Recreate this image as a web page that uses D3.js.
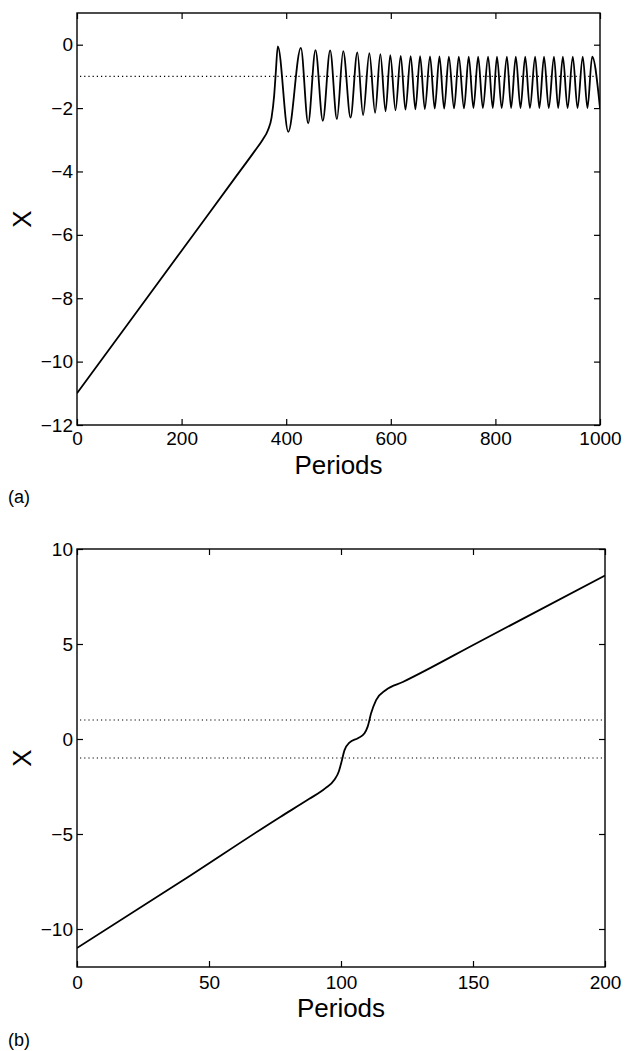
<!DOCTYPE html>
<html lang="en">
<head>
  <meta charset="UTF-8">
  <title>Periods vs X</title>
  <style>
    body { margin: 0; background: #fff; }
    svg { display: block; font-family: "Liberation Sans", Arial, Helvetica, sans-serif; }
    .frame { fill: none; stroke: #000; stroke-width: 1.4; }
    .tick line { stroke: #000; stroke-width: 1.2; }
    .tick text { fill: #000; font-size: 19px; }
    .curve { fill: none; stroke: #000; stroke-width: 1.8; }
    .ref { stroke: #000; stroke-width: 1.1; stroke-dasharray: 1.2 3; }
  </style>
</head>
<body>
  <script src="https://cdn.jsdelivr.net/npm/d3@7"></script>
  <script>
    // panel (a): long run (linear rise, then peaks/troughs)
    var periodsA = [0, 100, 200, 300, 340, 355, 365, 372, 377, 380, 384,
      404, 428, 442, 456, 470, 484, 497, 509, 523, 536, 547, 559, 570, 580, 590,
      599, 609, 619, 628, 638, 647, 656, 665, 675, 684, 693, 702, 711, 721, 730,
      740, 749, 758, 767, 776, 786, 795, 803, 812, 822, 830, 839, 848, 857, 866,
      876, 884, 893, 902, 912, 920, 929, 938, 948, 957, 967, 976, 985, 1000];
    var xA = [-11, -8.75, -6.5, -4.25, -3.35, -3.0, -2.7, -2.3, -1.6, -0.9, -0.05,
      -2.75, -0.1, -2.48, -0.17, -2.4, -0.18, -2.35, -0.2, -2.3, -0.24, -2.22, -0.27, -2.15, -0.3, -2.1,
      -0.33, -2.07, -0.35, -2.05, -0.36, -2.04, -0.36, -2.03, -0.37, -2.02, -0.37, -2.02, -0.38, -2.01, -0.38,
      -2.01, -0.38, -2.0, -0.38, -2.0, -0.38, -2.0, -0.38, -2.0, -0.38, -2.0, -0.38, -2.0, -0.38, -2.0,
      -0.38, -2.0, -0.38, -2.0, -0.38, -2.0, -0.38, -2.0, -0.38, -2.0, -0.38, -2.0, -0.38, -2.0];
    var refA = [-1];
    var xTicksA = [0, 200, 400, 600, 800, 1000];
    var yTicksA = [-12, -10, -8, -6, -4, -2, 0];

    // panel (b): short run with a step between the two dotted levels
    var periodsB = [0, 40, 77, 88, 94, 97.5, 99.2, 100.2, 101.3, 103.2, 106.4, 108.9,
      110.1, 111.4, 113.3, 117, 123.4, 152.4, 200];
    var xB = [-11, -7.45, -4.1, -3.15, -2.6, -2.15, -1.7, -1.2, -0.6, -0.19, 0.04, 0.3,
      0.65, 1.35, 2.05, 2.58, 3.0, 5.12, 8.6];
    var refB = [1, -1];
    var xTicksB = [0, 50, 100, 150, 200];
    var yTicksB = [-10, -5, 0, 5, 10];

    var svg = d3.select('body').append('svg')
      .attr('width', 625)
      .attr('height', 1051);

    function panel(opt) {
      var x = d3.scaleLinear().domain(opt.xDomain).range([opt.left, opt.right]);
      var y = d3.scaleLinear().domain(opt.yDomain).range([opt.bottom, opt.top]);
      var g = svg.append('g');
      var fmt = d3.format('d');

      g.append('clipPath').attr('id', opt.id)
        .append('rect')
        .attr('x', opt.left).attr('y', opt.top)
        .attr('width', opt.right - opt.left).attr('height', opt.bottom - opt.top);

      // dotted reference levels
      g.selectAll('line.ref')
        .data(opt.refs)
        .enter()
        .append('line')
        .attr('class', 'ref')
        .attr('x1', opt.left + 3).attr('x2', opt.right - 3)
        .attr('y1', function (d) { return y(d); })
        .attr('y2', function (d) { return y(d); });

      var pts = opt.t.map(function (t, i) { return [t, opt.v[i]]; });
      var line = d3.line()
        .x(function (d) { return x(d[0]); })
        .y(function (d) { return y(d[1]); })
        .curve(d3.curveMonotoneX);
      g.append('path')
        .attr('class', 'curve')
        .attr('clip-path', 'url(#' + opt.id + ')')
        .attr('d', line(pts));

      // inward ticks on every side, labels only left and bottom
      g.append('g')
        .attr('transform', 'translate(0,' + opt.bottom + ')')
        .call(d3.axisBottom(x).tickValues(opt.xTicks).tickSize(-6).tickSizeOuter(0)
          .tickPadding(opt.xPad).tickFormat(fmt))
        .call(function (s) { s.select('.domain').remove(); });
      g.append('g')
        .attr('transform', 'translate(0,' + opt.top + ')')
        .call(d3.axisTop(x).tickValues(opt.xTicks).tickSize(-6).tickSizeOuter(0).tickFormat(''))
        .call(function (s) { s.select('.domain').remove(); });
      g.append('g')
        .attr('transform', 'translate(' + opt.left + ',0)')
        .call(d3.axisLeft(y).tickValues(opt.yTicks).tickSize(-6).tickSizeOuter(0).tickPadding(4))
        .call(function (s) { s.select('.domain').remove(); });
      g.append('g')
        .attr('transform', 'translate(' + opt.right + ',0)')
        .call(d3.axisRight(y).tickValues(opt.yTicks).tickSize(-6).tickSizeOuter(0).tickFormat(''))
        .call(function (s) { s.select('.domain').remove(); });

      g.append('rect')
        .attr('class', 'frame')
        .attr('x', opt.left).attr('y', opt.top)
        .attr('width', opt.right - opt.left).attr('height', opt.bottom - opt.top);

      g.append('text')
        .attr('x', (opt.left + opt.right) / 2)
        .attr('y', opt.bottom + opt.labelGap)
        .attr('text-anchor', 'middle')
        .style('font-size', '26px')
        .text('Periods');

      g.append('text')
        .attr('transform', 'translate(31,' + (opt.top + opt.bottom) / 2 + ') rotate(-90)')
        .attr('text-anchor', 'middle')
        .style('font-size', '26px')
        .text('X');

      g.append('text')
        .attr('x', 8)
        .attr('y', opt.tagY)
        .style('font-size', '18px')
        .text(opt.tag);
    }

    panel({
      id: 'clipA', left: 77, right: 600, top: 13, bottom: 425,
      xDomain: [0, 1000], yDomain: [-12, 1],
      t: periodsA, v: xA, refs: refA, xTicks: xTicksA, yTicks: yTicksA,
      xPad: 7, labelGap: 49, tag: '(a)', tagY: 503
    });

    panel({
      id: 'clipB', left: 77, right: 605, top: 549, bottom: 967,
      xDomain: [0, 200], yDomain: [-12, 10],
      t: periodsB, v: xB, refs: refB, xTicks: xTicksB, yTicks: yTicksB,
      xPad: 9, labelGap: 50, tag: '(b)', tagY: 1046
    });
  </script>
</body>
</html>
